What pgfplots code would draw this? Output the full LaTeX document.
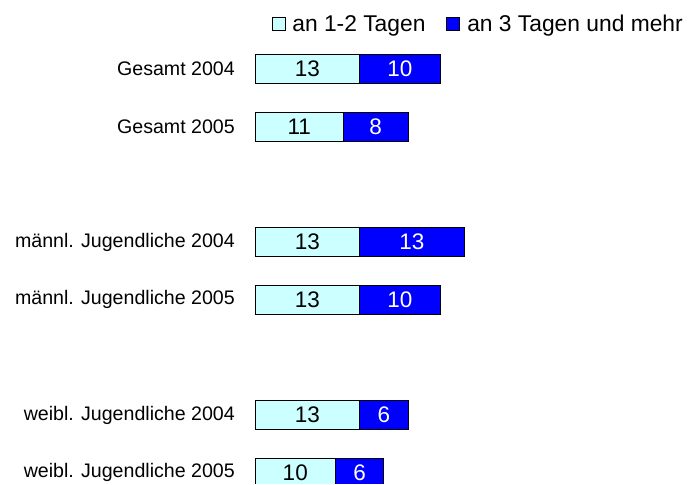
\documentclass[border=0pt]{standalone}
\usepackage{pgfplots}
\pgfplotsset{compat=1.18}
\usepackage{fontspec}
\setmainfont{Liberation Sans}
\definecolor{lcyan}{HTML}{CCFFFF}
\definecolor{dblue}{HTML}{0000FF}
\pgfplotsset{
  common/.style={
    scale only axis,
    width=434.7pt, height=443.7pt,
    at={(255pt,443.85pt)}, anchor=north west,
    xmin=0, xmax=54,
    ymin=-0.5, ymax=7.19,
    y dir=reverse,
    axis x line=none,
    axis y line*=left,
    y axis line style={draw=none},
    major tick length=0pt,
    ytick={0,1,3,4,6,7},
  },
}
\begin{document}
\begin{tikzpicture}
\useasboundingbox (0,0) rectangle (695pt,484pt);
\begin{axis}[common,
    xbar stacked,
    bar width=29pt,
    yticklabels={Gesamt 2004,Gesamt 2005,männl. Jugendliche 2004,männl. Jugendliche 2005,weibl. Jugendliche 2004,weibl. Jugendliche 2005},
    yticklabel style={font=\fontsize{19.6}{24}\selectfont, inner sep=0pt, xshift=-20pt},
    legend columns=2,
    legend style={at={(0.996,1.036)}, anchor=east, draw=none, fill=none,
      font=\fontsize{22.8}{27}\selectfont,
      /tikz/every even column/.append style={column sep=19pt},
      /tikz/every odd column/.append style={column sep=5pt},
      nodes={inner sep=2pt}},
    legend image code/.code={\draw[#1] (0pt,-6.5pt) rectangle (13pt,6.5pt);},
  ]
  \addplot[fill=lcyan, draw=black, line width=0.8pt] coordinates {(13,0) (11,1) (13,3) (13,4) (13,6) (10,7)};
  \addplot[fill=dblue, draw=black, line width=0.8pt] coordinates {(10,0) (8,1) (13,3) (10,4) (6,6) (6,7)};
  \legend{an 1-2 Tagen, an 3 Tagen und mehr}
\end{axis}
\begin{axis}[common, yticklabels={}, clip=false,
    every node near coord/.style={anchor=center, font=\fontsize{22.5}{27}\selectfont}]
  \addplot[draw=none, mark=none, nodes near coords, point meta=explicit symbolic,
    every node near coord/.append style={text=black}]
    coordinates {(6.5,0) [13] (5.5,1) [11] (6.5,3) [13] (6.5,4) [13] (6.5,6) [13] (5,7) [10]};
  \addplot[draw=none, mark=none, nodes near coords, point meta=explicit symbolic,
    every node near coord/.append style={text=white}]
    coordinates {(18,0) [10] (15,1) [8] (19.5,3) [13] (18,4) [10] (16,6) [6] (13,7) [6]};
\end{axis}
\end{tikzpicture}
\end{document}
